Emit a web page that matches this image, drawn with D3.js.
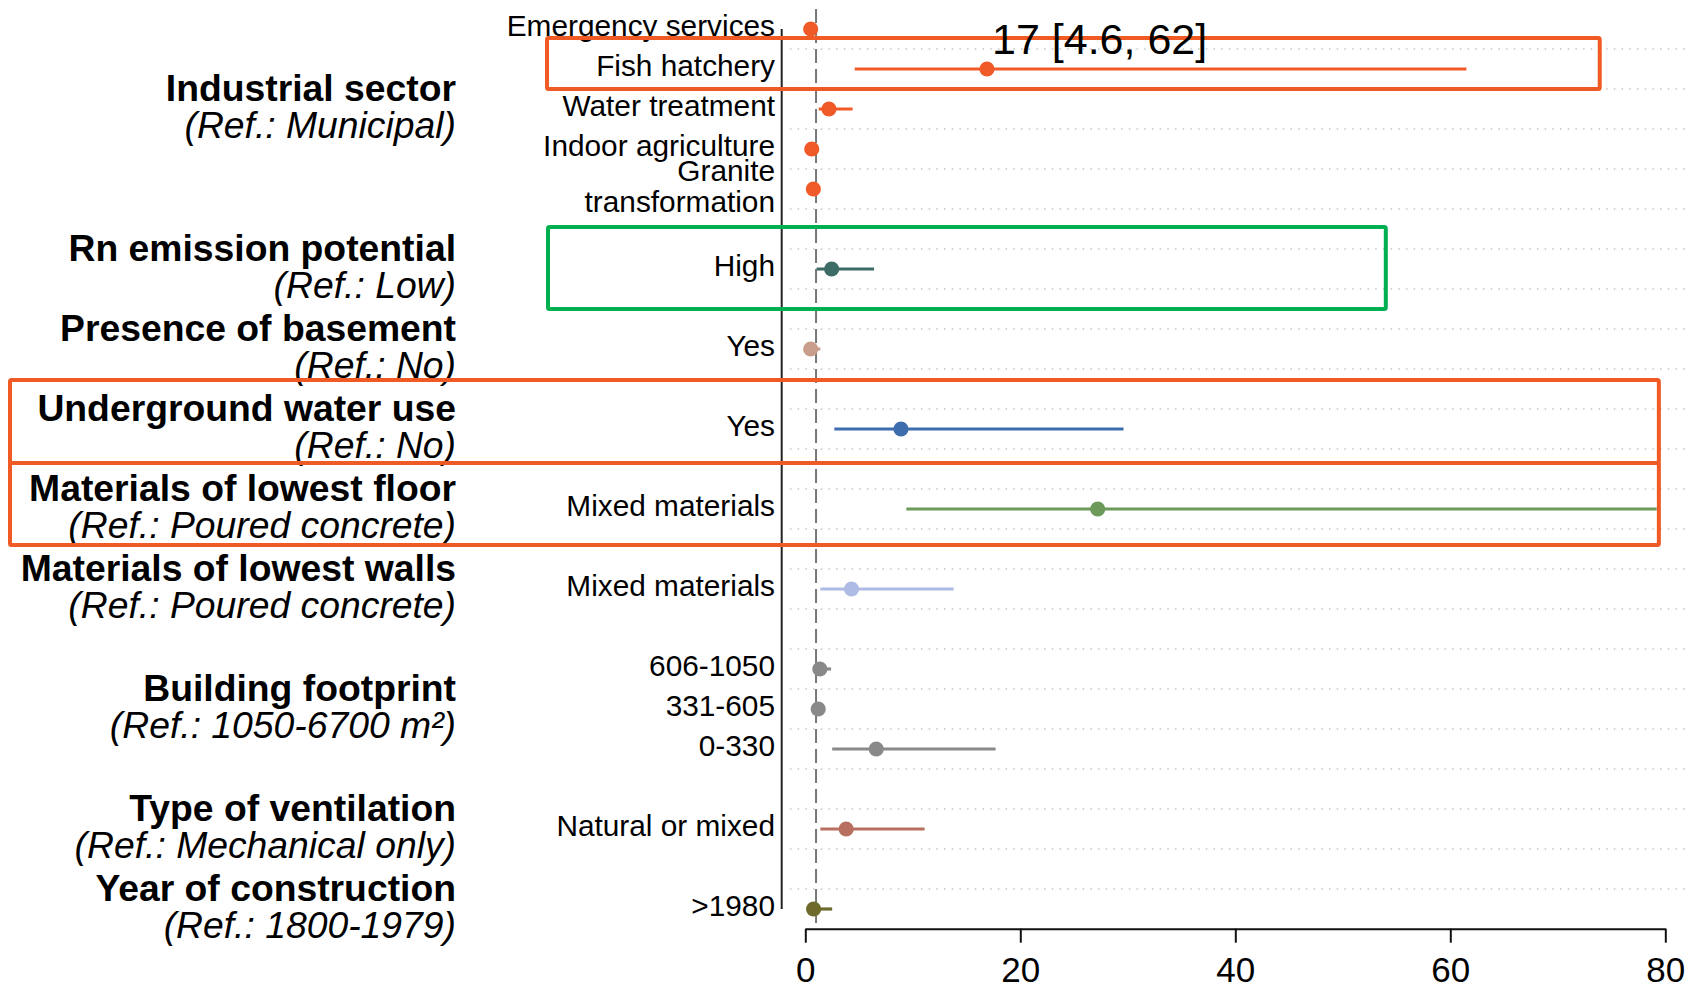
<!DOCTYPE html>
<html><head><meta charset="utf-8">
<script src="https://cdn.jsdelivr.net/npm/d3@7"></script>
<style>
body{margin:0;background:#fff}
svg{display:block}
text{font-family:"Liberation Sans",Arial,Helvetica,sans-serif;fill:#000}
</style>
</head><body>
<svg id="chart" width="1685" height="989"></svg>
<script>
// ---------------- DATA ----------------
const groupTitles = ["Industrial sector","Rn emission potential","Presence of basement","Underground water use",
  "Materials of lowest floor","Materials of lowest walls","Building footprint","Type of ventilation","Year of construction"];
const groupRefs = ["(Ref.: Municipal)","(Ref.: Low)","(Ref.: No)","(Ref.: No)","(Ref.: Poured concrete)",
  "(Ref.: Poured concrete)","(Ref.: 1050-6700 m²)","(Ref.: Mechanical only)","(Ref.: 1800-1979)"];
const groupColors = ["#F05A28","#3D6B66","#C99D8C","#3E6DAE","#6B9A5A","#AEBBE3","#898989","#B7705F","#6E6A2C"];

const categories = ["Emergency services","Fish hatchery","Water treatment","Indoor agriculture","Granite\ntransformation",
  "High","Yes","Yes","Mixed materials","Mixed materials","606-1050","331-605","0-330","Natural or mixed",">1980"];
const categoryGroup = [0,0,0,0,0,1,2,3,4,5,6,6,6,7,8];
const estimates = [0.5, 16.9, 2.2, 0.6, 0.75, 2.45, 0.5, 8.9, 27.2, 4.3, 1.35, 1.2, 6.6, 3.8, 0.77];
const lower     = [0.3, 4.6, 1.25, 0.4, 0.55, 1.05, 0.2, 2.7, 9.4, 1.4, 0.9, 0.85, 2.5, 1.4, 0.4];
const upper     = [0.85, 61.5, 4.4, 0.9, 1.05, 6.4, 1.4, 29.6, 79.2, 13.8, 2.4, 1.6, 17.7, 11.1, 2.5];

const xTicks = [0, 20, 40, 60, 80];
const refValue = 1;
const annotationLabel = "17 [4.6, 62]";
// highlight boxes: category index, right end in data units, colour
const highlightRows  = [1, 5, 7, 8];
const highlightRight = [73.9, 54.0, 79.4, 79.4];
const highlightColor = ["#F05A24","#00B050","#F05A24","#F05A24"];

// ---------------- LAYOUT ----------------
const W = 1685, H = 989;
const plotL = 805.3, plotR = 1665.3, rowTop = 29, rowBot = 909, axisY = 928.7;
const svg = d3.select("#chart");

// build row domain with spacer rows between groups
const rowKeys = [];
categories.forEach((c, i) => {
  if (i > 0 && categoryGroup[i] !== categoryGroup[i-1]) rowKeys.push("gap" + i);
  rowKeys.push("r" + i);
});
const x = d3.scaleLinear().domain([0, 80]).range([plotL, plotR]);
const y = d3.scalePoint().domain(rowKeys).range([rowTop, rowBot]);
const step = y.step();

// dotted gridlines between rows
const gridYs = rowKeys.slice(0, -1).map(k => y(k) + step / 2);
svg.append("g").selectAll("line").data(gridYs).join("line")
  .attr("x1", 790).attr("x2", W).attr("y1", d => d).attr("y2", d => d)
  .attr("stroke", "#c4c4c4").attr("stroke-width", 1.5).attr("stroke-dasharray", "1.5 6.2");

// reference dashed line at 1
svg.append("line")
  .attr("x1", x(refValue)).attr("x2", x(refValue)).attr("y1", 9).attr("y2", axisY)
  .attr("stroke", "#777").attr("stroke-width", 2).attr("stroke-dasharray", "14 6");

// left vertical axis line
svg.append("line").attr("x1", 781.7).attr("x2", 781.7).attr("y1", rowTop).attr("y2", rowBot)
  .attr("stroke", "#222").attr("stroke-width", 2);

// bottom axis
const xAxis = d3.axisBottom(x).tickValues(xTicks).tickSize(14).tickPadding(14).tickSizeOuter(0);
const gx = svg.append("g").attr("transform", `translate(0,${axisY})`).call(xAxis);
gx.select(".domain").attr("stroke", "#111").attr("stroke-width", 2);
gx.selectAll(".tick line").attr("stroke", "#111").attr("stroke-width", 2);
gx.selectAll(".tick text").attr("font-size", 35).attr("fill", "#000")
  .style("font-family", '"Liberation Sans",Arial,sans-serif');

// category labels
const labG = svg.append("g");
categories.forEach((c, i) => {
  const lines = c.split("\n");
  const yc = y("r" + i);
  const t = labG.append("text").attr("text-anchor", "end").attr("font-size", 29.8);
  lines.forEach((ln, j) => {
    t.append("tspan").attr("x", 775)
      .attr("y", yc + 7 - (lines.length - 1) * 15.5 + j * 31).text(ln);
  });
});

// group labels
groupTitles.forEach((g, gi) => {
  const idx = categoryGroup.map((v, i) => v === gi ? i : -1).filter(v => v >= 0);
  const mid = (y("r" + idx[0]) + y("r" + idx[idx.length - 1])) / 2;
  svg.append("text").attr("x", 456).attr("y", mid - 8).attr("text-anchor", "end")
    .attr("font-size", 37.3).attr("font-weight", "bold").text(g);
  svg.append("text").attr("x", 456).attr("y", mid + 29).attr("text-anchor", "end")
    .attr("font-size", 37.3).attr("font-style", "italic").text(groupRefs[gi]);
});

// CI lines and points
const marks = svg.append("g");
categories.forEach((c, i) => {
  const col = groupColors[categoryGroup[i]];
  const yc = y("r" + i);
  marks.append("line").attr("x1", x(lower[i])).attr("x2", x(upper[i]))
    .attr("y1", yc).attr("y2", yc).attr("stroke", col).attr("stroke-width", 3.2);
  marks.append("circle").attr("cx", x(estimates[i])).attr("cy", yc).attr("r", 7.6).attr("fill", col);
});

// highlight boxes
const boxTop = [-31, -42, -49, -46];
const boxBot = [20, 40, 34, 36];
const boxLeft = [547, 548, 10, 10];
highlightRows.forEach((ri, k) => {
  const yc = y("r" + ri);
  svg.append("rect")
    .attr("x", boxLeft[k]).attr("y", yc + boxTop[k])
    .attr("width", x(highlightRight[k]) - boxLeft[k]).attr("height", boxBot[k] - boxTop[k])
    .attr("rx", 1.5)
    .attr("fill", "none").attr("stroke", highlightColor[k]).attr("stroke-width", 4);
});

// annotation text
svg.append("text").attr("x", 992).attr("y", 54).attr("font-size", 43).text(annotationLabel);
</script>
</body></html>
